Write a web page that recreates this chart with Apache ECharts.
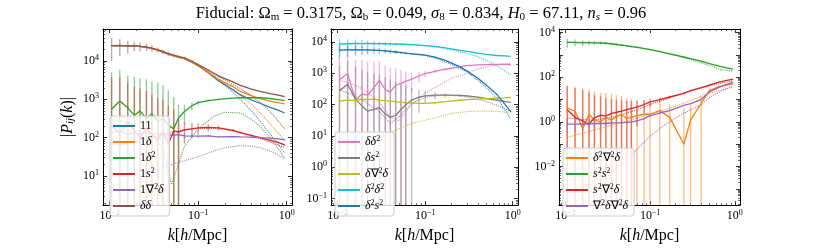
<!DOCTYPE html>
<html><head><meta charset="utf-8">
<script src="https://cdn.jsdelivr.net/npm/echarts@6/dist/echarts.min.js"></script>
<style>html,body{margin:0;padding:0;background:#fff}#c{width:830px;height:249px}</style>
</head><body><div id="c"></div>
<script>
// ---------------- data ----------------
const kMeas = [0.0105, 0.013, 0.016, 0.019, 0.022, 0.026, 0.03, 0.035, 0.04, 0.046, 0.053, 0.06, 0.07, 0.085, 0.1, 0.13, 0.17, 0.25, 0.3, 0.4, 0.5, 0.65, 0.8, 0.95];
const kTheory = [0.0105, 0.015, 0.02, 0.03, 0.04, 0.05, 0.07, 0.1, 0.15, 0.2, 0.3, 0.4, 0.5, 0.7, 0.95];
const xTickLabels = ['10^-2', '10^-1', '10^0'];

// Panel 1
const P1_11 = [2.5e4, 2.5e4, 2.5e4, 2.45e4, 2.4e4, 2.3e4, 2.1e4, 1.9e4, 1.7e4, 1.5e4, 1.35e4, 1.25e4, 1.15e4, 9.5e3, 7.5e3, 4.9e3, 3.0e3, 1.75e3, 1.3e3, 960, 790, 620, 520, 440];
const P1_1d = [2.5e4, 2.5e4, 2.5e4, 2.45e4, 2.4e4, 2.3e4, 2.1e4, 1.9e4, 1.7e4, 1.5e4, 1.35e4, 1.25e4, 1.15e4, 9.6e3, 7.6e3, 5.1e3, 3.3e3, 2.1e3, 1.6e3, 1.25e3, 1.05e3, 900, 820, 760];
const P1_1d2 = [550, 900, 600, 380, 500, 320, 420, 260, 330, 210, 170, 330, 480, 680, 820, 930, 1000, 1080, 1100, 1100, 1100, 1050, 980, 920];
const P1_1d2_err = [4500, 5000, 3500, 3500, 3000, 3000, 2500, 2500, 2000, 1500, 1000, 400, 250, 150, 100, 70, 50, 30, 25, 15, 12, 10, 8, 6];
const P1_1s2 = [200, 130, 250, 150, 100, 180, 120, 90, 140, 70, 150, 140, 160, 170, 180, 185, 180, 155, 135, 115, 100, 85, 75, 65];
const P1_1s2_err = [3500, 3500, 2500, 2000, 1800, 1500, 1200, 1000, 800, 600, 400, 150, 90, 70, 55, 40, 25, 12, 10, 7, 5, 4, 3, 3];
const P1_1L = [140, 150, 120, 135, 125, 140, 120, 130, 125, 120, 115, 120, 112, 110, 110, 112, 105, 107, 105, 103, 100, 97, 93, 88];
const P1_1L_err = [100, 90, 80, 70, 60, 55, 50, 45, 40, 35, 30, 25, 20, 15, 12, 8, 6, 4, 3, 2, 2, 2, 2, 2];
const P1_dd = [2.5e4, 2.55e4, 2.45e4, 2.5e4, 2.4e4, 2.3e4, 2.15e4, 1.95e4, 1.75e4, 1.55e4, 1.4e4, 1.3e4, 1.2e4, 9.8e3, 8.0e3, 5.8e3, 4.1e3, 2.8e3, 2.3e3, 1.85e3, 1.6e3, 1.4e3, 1.28e3, 1.18e3];
const P1_dd_err = [1.5e4, 1.2e4, 9e3, 7e3, 6e3, 5e3, 4e3, 3e3, 2.5e3, 2e3, 1.6e3, 1.3e3, 1e3, 700, 500, 300, 180, 90, 60, 35, 25, 15, 10, 8];
const P1_11_th = [2.5e4, 2.5e4, 2.45e4, 2.15e4, 1.75e4, 1.45e4, 1.15e4, 7.4e3, 4.0e3, 2.4e3, 1.0e3, 500, 270, 100, 40];
const P1_1d_th = [2.5e4, 2.5e4, 2.45e4, 2.15e4, 1.75e4, 1.45e4, 1.15e4, 7.5e3, 4.2e3, 2.6e3, 1.3e3, 750, 450, 190, 85];
const P1_1d2_th = [300, 260, 210, 120, 50, 6, 60, 170, 360, 460, 440, 300, 200, 80, 30];
const P1_1s2_th = [60, 70, 80, 100, 120, 140, 160, 175, 175, 165, 135, 110, 95, 72, 55];
const P1_1L_th = [5, 7, 9, 13, 17, 20, 25, 32, 45, 55, 62, 60, 55, 42, 28];
const P1_dd_th = [2.5e4, 2.5e4, 2.45e4, 2.15e4, 1.75e4, 1.45e4, 1.2e4, 7.8e3, 4.6e3, 3.2e3, 1.9e3, 1.25e3, 850, 400, 170];

// Panel 2
const P2_dd2 = [620, 980, 140, 220, 200, 350, 600, 300, 250, 420, 480, 550, 650, 820, 980, 1150, 1350, 1600, 1750, 1850, 1900, 1920, 1920, 1900];
const P2_dd2_err = [2500, 3000, 2500, 2500, 2200, 2000, 1800, 1500, 1200, 1000, 800, 600, 400, 300, 200, 150, 100, 50, 40, 30, 20, 15, 10, 8];
const P2_ds2 = [280, 450, 150, 90, 62, 70, 80, 50, 40, 45, 70, 100, 140, 175, 190, 200, 200, 197, 190, 175, 155, 140, 128, 118];
const P2_ds2_err = [1500, 2000, 1500, 1200, 1000, 900, 800, 700, 600, 500, 400, 300, 200, 120, 80, 50, 30, 15, 12, 8, 6, 5, 4, 3];
const P2_dLd = [130, 140, 135, 150, 145, 150, 140, 135, 130, 125, 118, 115, 112, 110, 110, 115, 125, 138, 145, 150, 155, 160, 165, 170];
const P2_dLd_err = [60, 55, 50, 45, 40, 35, 30, 25, 22, 20, 18, 15, 12, 10, 8, 6, 5, 4, 3, 2, 2, 2, 2, 2];
const P2_d2d2 = [8.7e3, 8.8e3, 9.0e3, 8.9e3, 9.0e3, 8.9e3, 8.9e3, 8.8e3, 8.7e3, 8.6e3, 8.5e3, 8.4e3, 8.2e3, 7.9e3, 7.7e3, 7.2e3, 6.5e3, 5.4e3, 5.0e3, 4.4e3, 4.0e3, 3.7e3, 3.6e3, 3.5e3];
const P2_d2d2_err = [4000, 3500, 3000, 2500, 2000, 1700, 1500, 1200, 1000, 800, 600, 500, 400, 300, 200, 150, 100, 50, 40, 25, 20, 15, 12, 10];
const P2_d2s2 = [5.5e3, 5.6e3, 5.7e3, 5.6e3, 5.6e3, 5.5e3, 5.4e3, 5.2e3, 5.0e3, 4.8e3, 4.6e3, 4.4e3, 4.2e3, 4.0e3, 3.8e3, 3.3e3, 2.6e3, 1.6e3, 1.2e3, 700, 420, 220, 110, 60];
const P2_d2s2_err = [2500, 2200, 2000, 1700, 1500, 1300, 1100, 900, 800, 650, 500, 400, 300, 220, 160, 100, 60, 30, 25, 15, 10, 6, 4, 3];
const P2_dd2_th = [600, 450, 300, 120, 40, 30, 100, 230, 450, 700, 1000, 1350, 1600, 1900, 2100];
const P2_ds2_th = [300, 200, 130, 60, 25, 40, 110, 170, 200, 200, 175, 150, 125, 90, 60];
const P2_dLd_th = [0.5, 1.5, 3.5, 8, 13, 17, 25, 32, 42, 52, 60, 62, 62, 60, 55];
const P2_d2d2_th = [8.7e3, 8.9e3, 8.9e3, 8.9e3, 8.7e3, 8.5e3, 8.2e3, 7.6e3, 6.5e3, 5.5e3, 4.3e3, 3.4e3, 2.6e3, 1.6e3, 900];
const P2_d2s2_th = [5.5e3, 5.6e3, 5.6e3, 5.4e3, 5.0e3, 4.7e3, 4.2e3, 3.7e3, 2.7e3, 1.9e3, 1.1e3, 600, 350, 130, 35];

// Panel 3
const P3_d2Ld = [4.2, 3.0, 0.5, 2.2, 1.2, 1.0, 1.6, 1.2, 1.7, 2.2, 1.4, 1.6, 1.9, 2.2, 2.2, 3.2, 1.6, 0.1, 1.2, 6.8, 25, 38, 45, 50];
const P3_d2Ld_err = [40, 35, 30, 25, 22, 20, 18, 16, 14, 12, 10, 9, 8, 7, 6, 5, 4.5, 4, 5, 8, 6, 4, 3, 3];
const P3_s2s2 = [3.6e3, 3.6e3, 3.5e3, 3.5e3, 3.45e3, 3.4e3, 3.3e3, 3.1e3, 2.9e3, 2.7e3, 2.5e3, 2.35e3, 2.15e3, 1.9e3, 1.7e3, 1.4e3, 1.1e3, 800, 680, 520, 400, 310, 260, 230];
const P3_s2s2_err = [1500, 1200, 1000, 800, 700, 600, 500, 400, 350, 300, 250, 200, 150, 100, 70, 40, 25, 12, 10, 6, 4, 3, 2, 2];
const P3_s2Ld = [3.5, 1.6, 1.1, 0.8, 1.5, 2.0, 1.8, 2.4, 2.7, 3.0, 3.5, 4.0, 4.6, 6.0, 7.9, 10, 13, 19, 25, 34, 44, 60, 72, 82];
const P3_s2Ld_err = [35, 30, 25, 20, 15, 12, 10, 8, 7, 6, 5, 4.5, 4, 3.5, 3, 2.5, 2, 2, 2, 2, 2, 2, 2, 2];
const P3_LdLd = [0.8, 0.8, 0.82, 0.8, 0.85, 0.85, 0.85, 0.9, 0.9, 0.92, 0.95, 1.0, 1.1, 1.4, 1.9, 2.5, 3.2, 5.5, 6.5, 10, 22, 35, 48, 60];
const P3_LdLd_err = [0.5, 0.45, 0.4, 0.35, 0.3, 0.25, 0.2, 0.18, 0.15, 0.13, 0.12, 0.1, 0.1, 0.1, 0.1, 0.1, 0.1, 0.1, 0.1, 0.1, 0.2, 0.3, 0.4, 0.5];
const P3_d2Ld_th = [0.2, 0.3, 0.4, 0.6, 0.8, 1.0, 1.5, 2.2, 3.5, 5, 9, 14, 19, 27, 35];
const P3_s2s2_th = [3.6e3, 3.5e3, 3.45e3, 3.25e3, 2.95e3, 2.7e3, 2.25e3, 1.75e3, 1.25e3, 950, 620, 440, 330, 210, 190];
const P3_s2Ld_th = [1.5, 1.3, 1.2, 1.4, 1.8, 2.3, 3.5, 6, 10, 15, 24, 32, 40, 55, 70];
const P3_LdLd_th = [5e-4, 1e-3, 2e-3, 5e-3, 9e-3, 0.015, 0.06, 0.23, 0.75, 1.5, 3.5, 6, 12, 25, 40];

// ---------------- layout / style ----------------
const FONT = 'Liberation Serif';
const X_MIN = 0.0084, X_MAX = 1.15;
const grids = [
  {left: 103, top: 29, width: 189, height: 188, yMin: 1.75, yMax: 6.8e4, yStep: 1, legendLeft: 110},
  {left: 331, top: 29, width: 187, height: 188, yMin: 0.062, yMax: 2.6e4, yStep: 1, legendLeft: 335},
  {left: 559, top: 29, width: 181, height: 188, yMin: 1.9e-4, yMax: 1.43e4, yStep: 2, legendLeft: 563}
];
const C = {blue:'#1f77b4', orange:'#ff7f0e', green:'#2ca02c', red:'#d62728', purple:'#9467bd', brown:'#8c564b', pink:'#e377c2', gray:'#7f7f7f', olive:'#bcbd22', cyan:'#17becf'};

const panels = [
  [
    {id:'11', label:'11', color:C.blue, v:P1_11, th:P1_11_th},
    {id:'1d', label:'1{i|δ}', color:C.orange, v:P1_1d, th:P1_1d_th},
    {id:'1d2', label:'1{i|δ}{sup|2}', color:C.green, v:P1_1d2, e:P1_1d2_err, th:P1_1d2_th},
    {id:'1s2', label:'1{i|s}{sup|2}', color:C.red, v:P1_1s2, e:P1_1s2_err, th:P1_1s2_th},
    {id:'1Ld', label:'1∇{sup|2}{i|δ}', color:C.purple, v:P1_1L, e:P1_1L_err, th:P1_1L_th},
    {id:'dd', label:'{i|δδ}', color:C.brown, v:P1_dd, e:P1_dd_err, th:P1_dd_th}
  ],
  [
    {id:'dd2', label:'{i|δδ}{sup|2}', color:C.pink, v:P2_dd2, e:P2_dd2_err, th:P2_dd2_th},
    {id:'ds2', label:'{i|δs}{sup|2}', color:C.gray, v:P2_ds2, e:P2_ds2_err, th:P2_ds2_th},
    {id:'dLd', label:'{i|δ}∇{sup|2}{i|δ}', color:C.olive, v:P2_dLd, e:P2_dLd_err, th:P2_dLd_th},
    {id:'d2d2', label:'{i|δ}{sup|2}{i|δ}{sup|2}', color:C.cyan, v:P2_d2d2, e:P2_d2d2_err, th:P2_d2d2_th},
    {id:'d2s2', label:'{i|δ}{sup|2}{i|s}{sup|2}', color:C.blue, v:P2_d2s2, e:P2_d2s2_err, th:P2_d2s2_th}
  ],
  [
    {id:'d2Ld', label:'{i|δ}{sup|2}∇{sup|2}{i|δ}', color:C.orange, v:P3_d2Ld, e:P3_d2Ld_err, th:P3_d2Ld_th},
    {id:'s2s2', label:'{i|s}{sup|2}{i|s}{sup|2}', color:C.green, v:P3_s2s2, e:P3_s2s2_err, th:P3_s2s2_th},
    {id:'s2Ld', label:'{i|s}{sup|2}∇{sup|2}{i|δ}', color:C.red, v:P3_s2Ld, e:P3_s2Ld_err, th:P3_s2Ld_th},
    {id:'LdLd', label:'∇{sup|2}{i|δ}∇{sup|2}{i|δ}', color:C.purple, v:P3_LdLd, e:P3_LdLd_err, th:P3_LdLd_th}
  ]
];

function richSet(size) {
  return {
    i: {fontFamily: FONT, fontStyle: 'italic', fontSize: size, color: '#000'},
    sup: {fontFamily: FONT, fontSize: Math.round(size * 0.68), verticalAlign: 'top', color: '#000'},
    sub: {fontFamily: FONT, fontSize: Math.round(size * 0.68), verticalAlign: 'bottom', color: '#000'},
    isub: {fontFamily: FONT, fontStyle: 'italic', fontSize: Math.round(size * 0.68), verticalAlign: 'bottom', color: '#000'}
  };
}
const tickRich = {sup: {fontFamily: FONT, fontSize: 8, verticalAlign: 'top', color: '#000', lineHeight: 8}};

function expLabel(v, step) {
  const e = Math.log10(v), r = Math.round(e);
  if (Math.abs(e - r) > 1e-6 || r % step !== 0) return '';
  return '10{sup|' + (r < 0 ? '−' + (-r) : r) + '}';
}

const xAxis = [], yAxis = [], series = [], legend = [];
const labelMap = {};
grids.forEach((g, gi) => {
  const common = {
    type: 'log', logBase: 10, gridIndex: gi,
    axisLine: {show: true, lineStyle: {color: '#000', width: 1}},
    axisTick: {show: true, inside: true, length: 4, lineStyle: {color: '#000', width: 0.8}},
    minorTick: {show: true, splitNumber: 9, length: 2, lineStyle: {color: '#000', width: 0.6}},
    splitLine: {show: false}, minorSplitLine: {show: false}
  };
  xAxis.push(Object.assign({}, common, {
    position: 'bottom', min: X_MIN, max: X_MAX,
    axisLabel: {show: true, margin: 4, fontFamily: FONT, fontSize: 12, color: '#000', lineHeight: 14, rich: tickRich,
      formatter: v => expLabel(v, 1), showMinLabel: false, showMaxLabel: false},
    name: '{i|k}[{i|h}/Mpc]', nameLocation: 'middle', nameGap: 15,
    nameTextStyle: {fontFamily: FONT, fontSize: 16, color: '#000', rich: richSet(16)}
  }));
  xAxis.push(Object.assign({}, common, {position: 'top', min: X_MIN, max: X_MAX, axisLabel: {show: false}}));
  yAxis.push(Object.assign({}, common, {
    position: 'left', min: g.yMin, max: g.yMax,
    axisLabel: {show: true, margin: 4, fontFamily: FONT, fontSize: 12, color: '#000', lineHeight: 14, rich: tickRich,
      formatter: v => expLabel(v, g.yStep), showMinLabel: false, showMaxLabel: false},
    name: gi === 0 ? '|{i|P}{isub|ij}({i|k})|' : '', nameLocation: 'middle', nameGap: 27, nameRotate: 90,
    nameTextStyle: {fontFamily: FONT, fontSize: 16, color: '#000', rich: richSet(16)}
  }));
  yAxis.push(Object.assign({}, common, {position: 'right', min: g.yMin, max: g.yMax, axisLabel: {show: false}}));

  const names = [];
  panels[gi].forEach(s => {
    const name = 'p' + gi + '_' + s.id;
    names.push(name);
    labelMap[name] = s.label;
    if (s.e) {
      const col = s.color;
      series.push({
        type: 'custom', name: name + '_err', xAxisIndex: 2 * gi, yAxisIndex: 2 * gi, silent: true, z: 1,
        data: kMeas.map((k, i) => [k, Math.max(s.v[i] - s.e[i], g.yMin), Math.min(s.v[i] + s.e[i], g.yMax)]),
        encode: {x: 0, y: [1, 2]},
        renderItem: (params, api) => {
          const a = api.coord([api.value(0), api.value(1)]);
          const b = api.coord([api.value(0), api.value(2)]);
          return {type: 'line', shape: {x1: a[0], y1: a[1], x2: b[0], y2: b[1]},
            style: {stroke: col, lineWidth: 1.4, opacity: 0.5}};
        }
      });
    }
    series.push({
      type: 'line', name: name + '_th', xAxisIndex: 2 * gi, yAxisIndex: 2 * gi, silent: true, z: 2,
      data: kTheory.map((k, i) => [k, s.th[i]]), showSymbol: false, symbol: 'none',
      lineStyle: {color: s.color, width: 1.1, type: 'dotted', opacity: 0.85}, itemStyle: {color: s.color}
    });
    series.push({
      type: 'line', name: name, xAxisIndex: 2 * gi, yAxisIndex: 2 * gi, silent: true, z: 3,
      data: kMeas.map((k, i) => [k, s.v[i]]), showSymbol: false, symbol: 'none',
      lineStyle: {color: s.color, width: 1.3}, itemStyle: {color: s.color}
    });
  });
  legend.push({
    data: names, left: g.legendLeft, bottom: 33, orient: 'vertical', icon: 'rect',
    itemWidth: 22, itemHeight: 2, itemGap: 2, padding: [3, 6, 3, 3],
    backgroundColor: 'rgba(255,255,255,0.8)', borderColor: '#cccccc', borderWidth: 1, borderRadius: 3,
    selectedMode: false,
    formatter: n => labelMap[n],
    textStyle: {fontFamily: FONT, fontSize: 12, color: '#000', lineHeight: 14, rich: richSet(12)}
  });
});

const chart = echarts.init(document.getElementById('c'), null, {renderer: 'canvas'});
chart.setOption({
  animation: false,
  backgroundColor: '#fff',
  grid: grids.map(g => ({left: g.left, top: g.top, width: g.width, height: g.height})),
  xAxis, yAxis, series, legend,
  graphic: [{
    type: 'text', x: 421, y: 14,
    style: {
      text: 'Fiducial: Ω{sub|m} = 0.3175, Ω{sub|b} = 0.049, {i|σ}{sub|8} = 0.834, {i|H}{sub|0} = 67.11, {i|n}{isub|s} = 0.96',
      rich: richSet(16.5), font: '16.5px "' + FONT + '"', fill: '#000',
      align: 'center', verticalAlign: 'middle', textAlign: 'center', textVerticalAlign: 'middle'
    }
  }]
});
</script>
</body></html>
